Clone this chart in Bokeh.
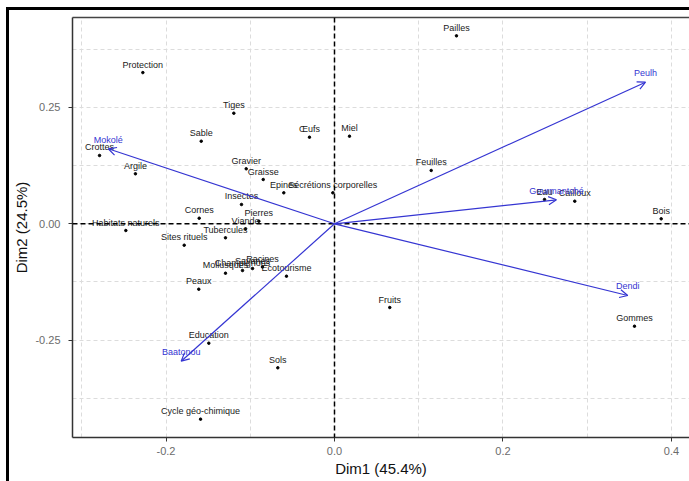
from bokeh.plotting import figure
from bokeh.models import (ColumnDataSource, Span, Arrow, OpenHead, FixedTicker,
                          LinearAxis, Range1d, PrintfTickFormatter)
from bokeh.core.properties import value
from bokeh.embed import file_html
from bokeh.resources import INLINE

# ---- data ----
row_names = ["Protection", "Tiges", "Sable", "Œufs", "Miel", "Crottes", "Argile",
             "Gravier", "Graisse", "Epines", "Sécrétions corporelles", "Insectes",
             "Cornes", "Pierres", "Viande", "Habitats naturels", "Sites rituels",
             "Tubercules", "Racines", "Écotourisme", "Mollusques", "Champignons",
             "Savanes", "Peaux", "Education", "Sols", "Cycle géo-chimique",
             "Pailles", "Feuilles", "Eau", "Cailloux", "Bois", "Fruits", "Gommes"]
row_x = [-0.2275, -0.1195, -0.1582, -0.0297, 0.0178, -0.2789, -0.2363,
         -0.1048, -0.0846, -0.0602, -0.0020, -0.1104,
         -0.1606, -0.0898, -0.1056, -0.2477, -0.1784,
         -0.1294, -0.0855, -0.0570, -0.1294, -0.1092,
         -0.0973, -0.1611, -0.1492, -0.0673, -0.1590,
         0.1448, 0.1148, 0.2493, 0.2852, 0.3878, 0.0656, 0.3561]
row_y = [0.3250, 0.2377, 0.1775, 0.1861, 0.1883, 0.1468, 0.1075,
         0.1182, 0.0952, 0.0666, 0.0666, 0.0415,
         0.0120, 0.0056, -0.0107, -0.0144, -0.0460,
         -0.0301, -0.0928, -0.1126, -0.1062, -0.1004,
         -0.0961, -0.1406, -0.2566, -0.3095, -0.4199,
         0.4040, 0.1146, 0.0522, 0.0486, 0.0107, -0.1799, -0.2201]

col_names = ["Peulh", "Gourmantché", "Dendi", "Mokolé", "Baatonou"]
col_x = [0.3692, 0.2635, 0.3481, -0.2686, -0.1820]
col_y = [0.3043, 0.0516, -0.1541, 0.1612, -0.2953]

x_ticks = [-0.2, 0.0, 0.2, 0.4]
x_minor = [-0.3, -0.1, 0.1, 0.3]
y_ticks = [-0.25, 0.0, 0.25]
y_minor = [-0.375, -0.125, 0.125, 0.375]

x_title = "Dim1 (45.4%)"
y_title = "Dim2 (24.5%)"

BLUE = "#3535d2"
FONT = "Liberation Sans"

rows = ColumnDataSource(dict(x=row_x, y=row_y, name=row_names))
cols = ColumnDataSource(dict(x=col_x, y=col_y, name=col_names))

p = figure(width=689, height=481, output_backend="svg", toolbar_location=None,
           x_range=Range1d(-0.311, 0.4214), y_range=Range1d(-0.4593, 0.4434),
           min_border_left=72, min_border_right=0, min_border_top=17,
           min_border_bottom=44)
p.outline_line_color = None
p.background_fill_color = "white"
p.border_fill_color = None
# outer black frame of the picture (top and left edges), drawn behind the canvas
p.styles = {
    "background": ("linear-gradient(#000, #000) 6px 7px / 3px 100% no-repeat, "
                   "linear-gradient(#000, #000) 6px 7px / 100% 3px no-repeat, "
                   "#ffffff"),
}

# grids
for g in (p.xgrid, p.ygrid):
    g.grid_line_color = "#dcdcdc"
    g.grid_line_dash = "4 3"
    g.grid_line_width = 1
    g.minor_grid_line_color = "#dcdcdc"
    g.minor_grid_line_dash = "4 3"
    g.minor_grid_line_width = 1

# axes
p.xaxis.ticker = FixedTicker(ticks=x_ticks, minor_ticks=x_minor)
p.yaxis.ticker = FixedTicker(ticks=y_ticks, minor_ticks=y_minor)
p.xaxis.formatter = PrintfTickFormatter(format="%.1f")
p.yaxis.formatter = PrintfTickFormatter(format="%.2f")
for ax in (p.xaxis, p.yaxis):
    ax.axis_line_color = "#333333"
    ax.axis_line_width = 1.5
    ax.major_tick_line_color = "#333333"
    ax.major_tick_out = 4
    ax.major_tick_in = 0
    ax.minor_tick_line_color = None
    ax.major_label_text_font = FONT
    ax.major_label_text_font_size = "11px"
    ax.major_label_text_color = "#6b6b6b"
    ax.axis_label_text_font = FONT
    ax.axis_label_text_font_size = "15px"
    ax.axis_label_text_font_style = "normal"
    ax.axis_label_text_color = "#111111"
p.xaxis.axis_label = x_title
p.yaxis.axis_label = y_title
p.xaxis.major_label_standoff = 5
p.xaxis.axis_label_standoff = 2
p.yaxis.major_label_standoff = 8
p.yaxis.axis_label_standoff = 2

top = LinearAxis(ticker=FixedTicker(ticks=[]), axis_line_color="#444444",
                 axis_line_width=1.5, major_tick_line_color=None,
                 minor_tick_line_color=None, major_label_text_font_size="0px")
p.add_layout(top, "above")

# zero lines
p.add_layout(Span(location=0, dimension="width", line_color="black",
                  line_dash="5 3", line_width=1.5))
p.add_layout(Span(location=0, dimension="height", line_color="black",
                  line_dash="5 3", line_width=1.5))

# rows
p.scatter("x", "y", source=rows, size=2.5, color="black")
p.text("x", "y", text="name", source=rows, text_font=value(FONT),
       text_font_size="9px", text_align="center", text_baseline="middle",
       y_offset=-8, text_color="#1a1a1a")

# columns (arrows)
p.add_layout(Arrow(end=OpenHead(size=8, line_color=BLUE, line_width=1.2),
                   x_start=0, y_start=0, x_end="x", y_end="y", source=cols,
                   line_color=BLUE, line_width=1.2))
p.text("x", "y", text="name", source=cols, text_font=value(FONT),
       text_font_size="9px", text_align="center", text_baseline="middle",
       y_offset=-9, text_color=BLUE)

open("out.html", "w").write(file_html(p, INLINE))
